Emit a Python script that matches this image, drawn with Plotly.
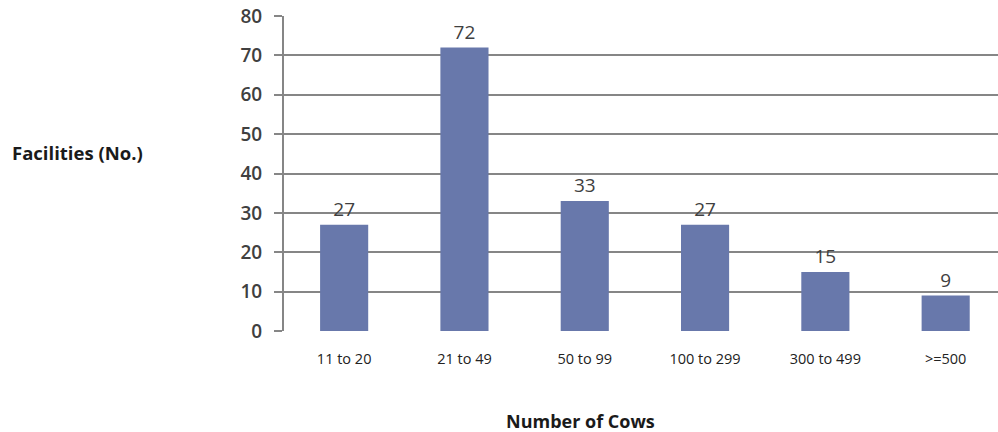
import plotly.graph_objects as go

# Herd-size classes and number of facilities in each
categories = ["11 to 20", "21 to 49", "50 to 99", "100 to 299", "300 to 499", ">=500"]
facilities = [27, 72, 33, 27, 15, 9]
y_ticks = [0, 10, 20, 30, 40, 50, 60, 70, 80]

bar_color = "#6878ab"
grid_color = "#868686"
text_color = "#404040"
font_family = "Open Sans, Lato, DejaVu Sans, sans-serif"

fig = go.Figure(
    go.Bar(
        x=categories,
        y=facilities,
        width=0.4,
        marker=dict(color=bar_color, line=dict(width=0)),
        text=[str(v) for v in facilities],
        textposition="outside",
        textfont=dict(family=font_family, size=19, color=text_color),
        cliponaxis=False,
    )
)

fig.update_layout(
    width=998,
    height=432,
    margin=dict(l=284, r=0, t=16, b=101),
    paper_bgcolor="white",
    plot_bgcolor="white",
    showlegend=False,
    xaxis=dict(
        type="category",
        range=[-0.5, 5.435],
        showgrid=False,
        showline=False,
        ticks="",
        tickfont=dict(family=font_family, size=14.5, color="#222222"),
        ticklabelstandoff=17,
    ),
    yaxis=dict(
        range=[0, 80],
        tickvals=y_ticks,
        showgrid=True,
        gridcolor=grid_color,
        gridwidth=2,
        showline=True,
        linecolor=grid_color,
        linewidth=2,
        ticks="outside",
        ticklen=8,
        tickwidth=2,
        tickcolor=grid_color,
        tickfont=dict(family=font_family, size=19, color=text_color, weight=600),
        ticklabelstandoff=8,
        zeroline=False,
    ),
    annotations=[
        dict(
            text="Facilities (No.)",
            xref="paper", yref="paper",
            x=-284 / 714, y=(331 - 152) / 315,
            xanchor="left", yanchor="middle",
            xshift=10,
            showarrow=False,
            font=dict(family=font_family, size=18.5, color="#1a1a1a", weight="bold"),
        ),
        dict(
            text="Number of Cows",
            xref="paper", yref="paper",
            x=(580 - 284) / 714, y=-(421 - 331) / 315,
            xanchor="center", yanchor="middle",
            showarrow=False,
            font=dict(family=font_family, size=18, color="#1a1a1a", weight="bold"),
        ),
    ],
)

fig.write_html("out.html")
